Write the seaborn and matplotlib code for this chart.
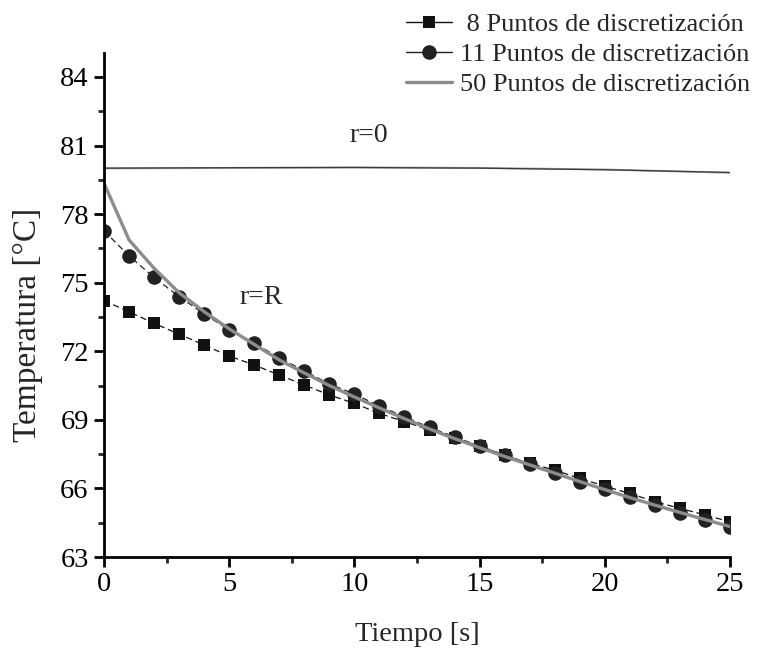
import numpy as np
import pandas as pd
import matplotlib
matplotlib.use("Agg")
import matplotlib.pyplot as plt
from matplotlib.lines import Line2D
import seaborn as sns

# Time axis (s)
tiempo = list(range(0, 26))

# Surface temperature (r=R) for each discretization
temp_8 = [74.21, 73.73, 73.22, 72.75, 72.27, 71.79, 71.40, 70.96, 70.52, 70.09,
          69.72, 69.28, 68.92, 68.56, 68.20, 67.85, 67.45, 67.10, 66.80, 66.44,
          66.10, 65.78, 65.42, 65.13, 64.84, 64.54]
temp_11 = [77.27, 76.17, 75.23, 74.39, 73.63, 72.93, 72.35, 71.72, 71.14, 70.57,
           70.13, 69.60, 69.14, 68.67, 68.26, 67.85, 67.46, 67.07, 66.66, 66.29,
           65.96, 65.64, 65.27, 64.94, 64.62, 64.33]
temp_50 = [79.35, 76.87, 75.63, 74.56, 73.73, 72.98, 72.30, 71.62, 71.05, 70.50,
           70.00, 69.52, 69.05, 68.60, 68.18, 67.78, 67.40, 67.03, 66.67, 66.30,
           65.95, 65.60, 65.27, 64.95, 64.64, 64.33]

# Center temperature (r=0)
tiempo_centro = [0, 5, 10, 15, 20, 25]
centro_50 = [80.00, 80.02, 80.04, 80.02, 79.95, 79.81]
centro_11 = [80.01, 80.03, 80.04, 80.01, 79.94, 79.82]

labels = [" 8 Puntos de discretización", "11 Puntos de discretización",
          "50 Puntos de discretización"]

sns.set_theme(style="ticks")
plt.rcParams["font.family"] = ["Liberation Serif", "DejaVu Serif"]

fig = plt.figure(figsize=(7.57, 6.54), dpi=100)
ax = fig.add_axes([0.1374, 0.1483, 0.8269, 0.7711])

df = pd.DataFrame({"t": tiempo, "n8": temp_8, "n11": temp_11, "n50": temp_50})
dfc = pd.DataFrame({"t": tiempo_centro, "c50": centro_50, "c11": centro_11})

# r=0 curves (nearly coincident)
sns.lineplot(data=dfc, x="t", y="c50", ax=ax, color="#a0a0a0", lw=1.4, legend=False)
sns.lineplot(data=dfc, x="t", y="c11", ax=ax, color="#3a3a3a", lw=0.9, legend=False)

# r=R curves
sns.lineplot(data=df, x="t", y="n8", ax=ax, color="#111111", lw=0.9,
             linestyle=(0, (5, 3)), marker="s", markersize=9, markeredgewidth=0,
             legend=False)
sns.lineplot(data=df, x="t", y="n11", ax=ax, color="#222222", lw=0.9,
             linestyle=(0, (5, 3)), marker="o", markersize=10.5, markeredgewidth=0,
             legend=False)
sns.lineplot(data=df, x="t", y="n50", ax=ax, color="#8c8c8c", lw=2.4,
             legend=False)

ax.set_xlim(0, 25)
ax.set_ylim(63, 85.06)
ax.set_xticks([0, 5, 10, 15, 20, 25])
ax.set_xticks([2.5, 7.5, 12.5, 17.5, 22.5], minor=True)
ax.set_yticks([63, 66, 69, 72, 75, 78, 81, 84])
ax.set_yticks([64.5, 67.5, 70.5, 73.5, 76.5, 79.5, 82.5], minor=True)

sns.despine(ax=ax)
for s in ("left", "bottom"):
    ax.spines[s].set_linewidth(2.0)
    ax.spines[s].set_color("black")
ax.tick_params(which="major", direction="out", length=7, width=2.0,
               labelsize=20.5, colors="black", pad=4)
ax.tick_params(which="minor", direction="out", length=4.5, width=2.0)

ax.set_xlabel("Tiempo [s]", fontsize=20.5, labelpad=18)
ax.set_ylabel("Temperatura [°C]", fontsize=24)
ax.yaxis.set_label_coords(-0.097, 0.46)

ax.text(9.8, 81.15, "r=0", fontsize=20)
ax.text(5.4, 74.05, "r=R", fontsize=20)

handles = [
    Line2D([], [], color="#111111", lw=1.0, marker="s", markersize=9,
           markeredgewidth=0),
    Line2D([], [], color="#222222", lw=1.0, marker="o", markersize=10.5,
           markeredgewidth=0),
    Line2D([], [], color="#8c8c8c", lw=2.4),
]
fig.legend(handles, labels, loc="upper right", bbox_to_anchor=(1.012, 1.005),
           frameon=False, fontsize=19, handlelength=1.75, handletextpad=0.3,
           labelspacing=0.25, borderaxespad=0.2)

fig.savefig("out.png", dpi=100)
